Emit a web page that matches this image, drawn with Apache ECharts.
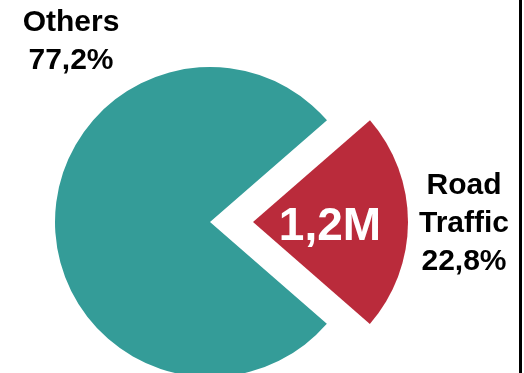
<!DOCTYPE html>
<html><head><meta charset="utf-8">
<script src="https://cdn.jsdelivr.net/npm/echarts@6/dist/echarts.min.js"></script>
<style>html,body{margin:0;padding:0;background:#fff}#c{width:524px;height:373px}</style>
</head><body><div id="c"></div>
<script>
const categories = ['Road\nTraffic', 'Others'];
const percents = [22.8, 77.2];
const innerLabels = ['1,2M', ''];
const colors = ['#BA2B3B', '#349C98'];

const fmt = v => v.toFixed(1).replace('.', ',') + '%';
const labelPos = [[464, 224], [71, 42]];
const innerPos = [[330, 227], [0, 0]];
const font = 'Liberation Sans, Arial, sans-serif';

const base = { type: 'pie', center: [210, 222], radius: 155, startAngle: 41, clockwise: true, silent: true };
const clear = categories.map((c, i) => ({ name: c, value: percents[i], itemStyle: { color: 'rgba(0,0,0,0)' } }));

const chart = echarts.init(document.getElementById('c'));
chart.setOption({
  animation: false,
  graphic: [{ type: 'rect', shape: { x: 519, y: 0, width: 3, height: 373 }, style: { fill: '#000' } }],
  series: [
    Object.assign({}, base, {
      z: 2, selectedMode: 'single', selectedOffset: 43,
      data: categories.map((c, i) => ({ name: c, value: percents[i], selected: i === 0, itemStyle: { color: colors[i] } })),
      label: { show: false }, labelLine: { show: false }
    }),
    Object.assign({}, base, {
      z: 5, selectedMode: false, data: clear,
      label: { show: true, position: 'inside', formatter: p => innerLabels[p.dataIndex],
        color: '#fff', fontSize: 46, fontWeight: 'bold', fontFamily: font },
      labelLine: { show: false },
      labelLayout: p => ({ x: innerPos[p.dataIndex][0], y: innerPos[p.dataIndex][1], align: 'center', verticalAlign: 'middle' })
    }),
    Object.assign({}, base, {
      z: 5, selectedMode: false, data: clear,
      label: { show: true, position: 'inside', formatter: p => p.name + '\n' + fmt(p.value),
        color: '#000', fontSize: 30, lineHeight: 38, fontWeight: 'bold', align: 'center', fontFamily: font },
      labelLine: { show: false },
      labelLayout: p => ({ x: labelPos[p.dataIndex][0], y: labelPos[p.dataIndex][1], align: 'center', verticalAlign: 'middle' })
    })
  ]
});
</script></body></html>
